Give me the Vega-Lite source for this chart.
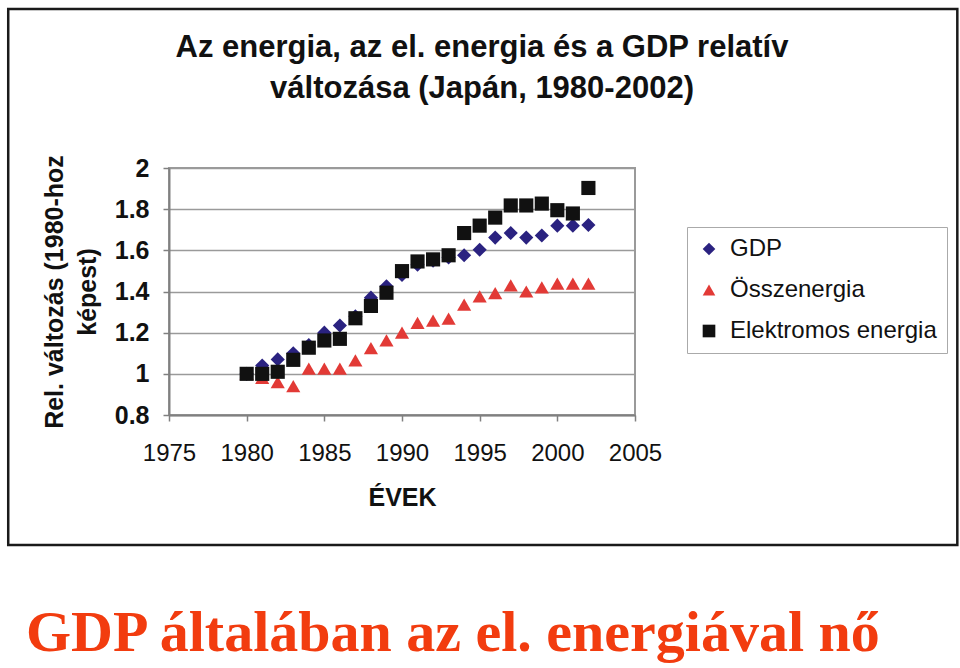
{
  "$schema": "https://vega.github.io/schema/vega-lite/v6.json",
  "background": "white",
  "padding": {"left": 5, "top": 6, "right": 0, "bottom": 0},
  "title": {
    "text": "GDP általában az el. energiával nő",
    "orient": "bottom",
    "anchor": "start",
    "font": "Liberation Serif",
    "fontSize": 58,
    "fontWeight": "bold",
    "color": "#f23c0f",
    "dx": 20,
    "offset": 58
  },
  "datasets": {
    "pts": [
      {"year": 1980, "value": 1.0, "series": "GDP"},
      {"year": 1981, "value": 1.04, "series": "GDP"},
      {"year": 1982, "value": 1.07, "series": "GDP"},
      {"year": 1983, "value": 1.10, "series": "GDP"},
      {"year": 1984, "value": 1.14, "series": "GDP"},
      {"year": 1985, "value": 1.20, "series": "GDP"},
      {"year": 1986, "value": 1.235, "series": "GDP"},
      {"year": 1987, "value": 1.28, "series": "GDP"},
      {"year": 1988, "value": 1.37, "series": "GDP"},
      {"year": 1989, "value": 1.425, "series": "GDP"},
      {"year": 1990, "value": 1.48, "series": "GDP"},
      {"year": 1991, "value": 1.53, "series": "GDP"},
      {"year": 1992, "value": 1.55, "series": "GDP"},
      {"year": 1993, "value": 1.565, "series": "GDP"},
      {"year": 1994, "value": 1.576, "series": "GDP"},
      {"year": 1995, "value": 1.603, "series": "GDP"},
      {"year": 1996, "value": 1.662, "series": "GDP"},
      {"year": 1997, "value": 1.684, "series": "GDP"},
      {"year": 1998, "value": 1.662, "series": "GDP"},
      {"year": 1999, "value": 1.672, "series": "GDP"},
      {"year": 2000, "value": 1.72, "series": "GDP"},
      {"year": 2001, "value": 1.72, "series": "GDP"},
      {"year": 2002, "value": 1.723, "series": "GDP"},
      {"year": 1980, "value": 1.0, "series": "Összenergia"},
      {"year": 1981, "value": 0.98, "series": "Összenergia"},
      {"year": 1982, "value": 0.96, "series": "Összenergia"},
      {"year": 1983, "value": 0.94, "series": "Összenergia"},
      {"year": 1984, "value": 1.025, "series": "Összenergia"},
      {"year": 1985, "value": 1.025, "series": "Összenergia"},
      {"year": 1986, "value": 1.025, "series": "Összenergia"},
      {"year": 1987, "value": 1.065, "series": "Összenergia"},
      {"year": 1988, "value": 1.125, "series": "Összenergia"},
      {"year": 1989, "value": 1.162, "series": "Összenergia"},
      {"year": 1990, "value": 1.20, "series": "Összenergia"},
      {"year": 1991, "value": 1.248, "series": "Összenergia"},
      {"year": 1992, "value": 1.259, "series": "Összenergia"},
      {"year": 1993, "value": 1.268, "series": "Összenergia"},
      {"year": 1994, "value": 1.336, "series": "Összenergia"},
      {"year": 1995, "value": 1.376, "series": "Összenergia"},
      {"year": 1996, "value": 1.392, "series": "Összenergia"},
      {"year": 1997, "value": 1.43, "series": "Összenergia"},
      {"year": 1998, "value": 1.40, "series": "Összenergia"},
      {"year": 1999, "value": 1.42, "series": "Összenergia"},
      {"year": 2000, "value": 1.438, "series": "Összenergia"},
      {"year": 2001, "value": 1.438, "series": "Összenergia"},
      {"year": 2002, "value": 1.438, "series": "Összenergia"},
      {"year": 1980, "value": 1.0, "series": "Elektromos energia"},
      {"year": 1981, "value": 1.0, "series": "Elektromos energia"},
      {"year": 1982, "value": 1.01, "series": "Elektromos energia"},
      {"year": 1983, "value": 1.068, "series": "Elektromos energia"},
      {"year": 1984, "value": 1.127, "series": "Elektromos energia"},
      {"year": 1985, "value": 1.162, "series": "Elektromos energia"},
      {"year": 1986, "value": 1.17, "series": "Elektromos energia"},
      {"year": 1987, "value": 1.27, "series": "Elektromos energia"},
      {"year": 1988, "value": 1.33, "series": "Elektromos energia"},
      {"year": 1989, "value": 1.394, "series": "Elektromos energia"},
      {"year": 1990, "value": 1.499, "series": "Elektromos energia"},
      {"year": 1991, "value": 1.546, "series": "Elektromos energia"},
      {"year": 1992, "value": 1.556, "series": "Elektromos energia"},
      {"year": 1993, "value": 1.576, "series": "Elektromos energia"},
      {"year": 1994, "value": 1.684, "series": "Elektromos energia"},
      {"year": 1995, "value": 1.72, "series": "Elektromos energia"},
      {"year": 1996, "value": 1.759, "series": "Elektromos energia"},
      {"year": 1997, "value": 1.818, "series": "Elektromos energia"},
      {"year": 1998, "value": 1.818, "series": "Elektromos energia"},
      {"year": 1999, "value": 1.827, "series": "Elektromos energia"},
      {"year": 2000, "value": 1.795, "series": "Elektromos energia"},
      {"year": 2001, "value": 1.779, "series": "Elektromos energia"},
      {"year": 2002, "value": 1.903, "series": "Elektromos energia"}
    ]
  },
  "vconcat": [
    {
      "width": 466,
      "height": 247,
      "title": {
        "text": ["Az energia, az el. energia és a GDP relatív", "változása (Japán, 1980-2002)"],
        "font": "Liberation Sans",
        "fontSize": 31,
        "fontWeight": "bold",
        "color": "#111111",
        "anchor": "middle",
        "dx": 80,
        "lineHeight": 41,
        "offset": -97
      },
      "layer": [
        {
          "data": {"values": [{"k": 1}]},
          "mark": {"type": "rect", "fill": "transparent", "stroke": "#1a1a1a", "strokeWidth": 2.5, "clip": false},
          "encoding": {
            "x": {"datum": 1964.65, "type": "quantitative"},
            "x2": {"datum": 2025.75},
            "y": {"datum": 2.772, "type": "quantitative"},
            "y2": {"datum": 0.168}
          }
        },
        {
          "data": {"name": "pts"},
          "mark": {"type": "point", "filled": true, "opacity": 1, "size": 200},
          "encoding": {
            "x": {
              "field": "year",
              "type": "quantitative",
              "scale": {"domain": [1975, 2005], "zero": false, "nice": false},
              "axis": {
                "values": [1975, 1980, 1985, 1990, 1995, 2000, 2005],
                "format": "d",
                "grid": false,
                "title": "ÉVEK",
                "labelFontSize": 24,
                "labelFontWeight": "normal",
                "labelOverlap": false,
                "labelFlush": false,
                "labelPadding": 20,
                "titlePadding": 20
              }
            },
            "y": {
              "field": "value",
              "type": "quantitative",
              "scale": {"domain": [0.8, 2], "zero": false, "nice": false},
              "axis": {
                "values": [0.8, 1, 1.2, 1.4, 1.6, 1.8, 2],
                "format": "~g",
                "grid": true,
                "title": ["Rel. változás (1980-hoz", "képest)"],
                "titleLineHeight": 33,
                "labelFontSize": 25,
                "labelFontWeight": "bold",
                "labelOverlap": false,
                "labelFlush": false,
                "labelPadding": 14,
                "titlePadding": 14
              }
            },
            "color": {
              "field": "series",
              "type": "nominal",
              "scale": {"domain": ["GDP", "Összenergia", "Elektromos energia"], "range": ["#2a2280", "#e23a36", "#111111"]},
              "legend": {
                "title": null,
                "orient": "none",
                "legendX": 518,
                "legendY": 59,
                "labelFontSize": 24,
                "labelFont": "Liberation Sans",
                "labelColor": "#111111",
                "labelLimit": 400,
                "symbolSize": 160,
                "rowPadding": 17,
                "padding": 10,
                "labelOffset": 9,
                "strokeColor": "#aaaaaa",
                "fillColor": "white"
              }
            },
            "shape": {
              "field": "series",
              "type": "nominal",
              "scale": {"domain": ["GDP", "Összenergia", "Elektromos energia"], "range": ["diamond", "triangle-up", "square"]}
            }
          }
        }
      ]
    }
  ],
  "config": {
    "font": "Liberation Sans",
    "view": {"stroke": "#9a9a9a", "strokeWidth": 2},
    "axis": {
      "labelFont": "Liberation Sans",
      "labelColor": "#111111",
      "titleFont": "Liberation Sans",
      "titleFontSize": 25,
      "titleFontWeight": "bold",
      "titleColor": "#111111",
      "domainColor": "#808080",
      "domainWidth": 2,
      "tickColor": "#808080",
      "tickWidth": 1.5,
      "tickSize": 6,
      "gridColor": "#9a9a9a",
      "gridWidth": 1.5
    }
  }
}
